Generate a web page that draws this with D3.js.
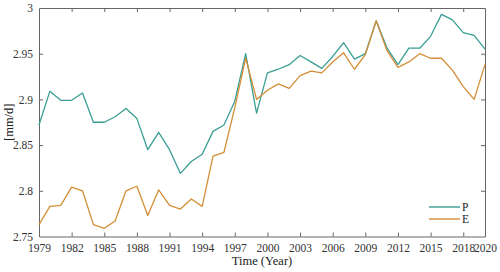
<!DOCTYPE html>
<html>
<head>
<meta charset="utf-8">
<script src="https://cdn.jsdelivr.net/npm/d3@7"></script>
<style>
body { margin: 0; background: #fff; }
svg { font-family: "Liberation Serif", "Times New Roman", serif; }
</style>
</head>
<body>
<svg id="chart" width="500" height="272"></svg>
<script>
// yearly values
var years = d3.range(1979, 2021);
var valuesP = [2.872, 2.909, 2.899, 2.899, 2.907, 2.875, 2.875, 2.881, 2.890, 2.879,
	2.845, 2.864, 2.845, 2.819, 2.832, 2.840, 2.865, 2.872, 2.898, 2.950,
	2.885, 2.929, 2.933, 2.938, 2.948, 2.941, 2.934, 2.947, 2.962, 2.944,
	2.950, 2.986, 2.956, 2.938, 2.956, 2.956, 2.969, 2.993, 2.987, 2.973,
	2.970, 2.955];
var valuesE = [2.763, 2.783, 2.784, 2.804, 2.800, 2.763, 2.759, 2.767, 2.800, 2.805,
	2.773, 2.801, 2.784, 2.780, 2.791, 2.783, 2.838, 2.842, 2.891, 2.945,
	2.900, 2.910, 2.917, 2.912, 2.926, 2.931, 2.929, 2.941, 2.951, 2.933,
	2.949, 2.986, 2.953, 2.935, 2.941, 2.950, 2.945, 2.945, 2.932, 2.914,
	2.900, 2.938];
var xTicks = [1979, 1982, 1985, 1988, 1991, 1994, 1997, 2000, 2003, 2006, 2009, 2012, 2015, 2018, 2020];
var yTicks = [2.75, 2.8, 2.85, 2.9, 2.95, 3];
var series = [
	{name: 'P', values: valuesP, color: '#3a9e94'},
	{name: 'E', values: valuesE, color: '#d38e36'}
];

var svg = d3.select('#chart');
var L = 39, R = 485, T = 8, B = 236.5;
var boxColor = '#666';

var x = d3.scaleLinear().domain([1979, 2020]).range([L, R]);
var y = d3.scaleLinear().domain([2.75, 3]).range([B, T]);

// bottom axis
var xAxis = svg.append('g').attr('transform', 'translate(0,' + B + ')')
	.call(d3.axisBottom(x).tickValues(xTicks).tickFormat(d3.format('d')).tickSizeInner(-4).tickSizeOuter(0).tickPadding(7));
// top ticks
var xTop = svg.append('g').attr('transform', 'translate(0,' + T + ')')
	.call(d3.axisTop(x).tickValues(xTicks).tickFormat('').tickSizeInner(-4).tickSizeOuter(0));
// left axis
var yAxis = svg.append('g').attr('transform', 'translate(' + L + ',0)')
	.call(d3.axisLeft(y).tickValues(yTicks).tickFormat(function(d){ return String(d); }).tickSizeInner(-4).tickSizeOuter(0).tickPadding(6));
// right ticks
var yRight = svg.append('g').attr('transform', 'translate(' + R + ',0)')
	.call(d3.axisRight(y).tickValues(yTicks).tickFormat('').tickSizeInner(-4).tickSizeOuter(0));

[xAxis, xTop, yAxis, yRight].forEach(function(g){
	g.select('.domain').attr('stroke', boxColor);
	g.selectAll('.tick line').attr('stroke', boxColor);
	g.selectAll('.tick text').attr('fill', '#333').style('font-size', '11.5px').style('font-family', '"Liberation Serif", serif');
});
// drop the tick marks that sit on the box corners
xTop.selectAll('.tick').filter(function(d){ return d === 1979 || d === 2020; }).select('line').remove();
xAxis.selectAll('.tick').filter(function(d){ return d === 1979 || d === 2020; }).select('line').remove();
yAxis.selectAll('.tick').filter(function(d){ return d === 2.75 || d === 3; }).select('line').remove();
yRight.selectAll('.tick').filter(function(d){ return d === 2.75 || d === 3; }).select('line').remove();

var line = d3.line()
	.x(function(d, i){ return x(years[i]); })
	.y(function(d){ return y(d); });

svg.append('g').selectAll('path.series').data(series).enter().append('path')
	.attr('class', 'series')
	.attr('fill', 'none')
	.attr('stroke', function(d){ return d.color; })
	.attr('stroke-width', 1.3)
	.attr('stroke-linejoin', 'round')
	.attr('d', function(d){ return line(d.values); });

// axis titles
svg.append('text')
	.attr('x', (L + R) / 2).attr('y', 265)
	.attr('text-anchor', 'middle')
	.attr('fill', '#222')
	.style('font-size', '12.5px')
	.text('Time (Year)');

svg.append('text')
	.attr('transform', 'translate(13,' + ((T + B) / 2) + ') rotate(-90)')
	.attr('text-anchor', 'middle')
	.attr('fill', '#222')
	.style('font-size', '12.5px')
	.text('[mm/d]');

// legend
var legend = svg.append('g');
series.forEach(function(s, i){
	var ly = 207 + i * 12;
	legend.append('line')
		.attr('x1', 429).attr('x2', 460).attr('y1', ly).attr('y2', ly)
		.attr('stroke', s.color).attr('stroke-width', 1.4);
	legend.append('text')
		.attr('x', 462).attr('y', ly + 4)
		.attr('fill', '#222')
		.style('font-size', '11.5px')
		.text(s.name);
});
</script>
</body>
</html>
